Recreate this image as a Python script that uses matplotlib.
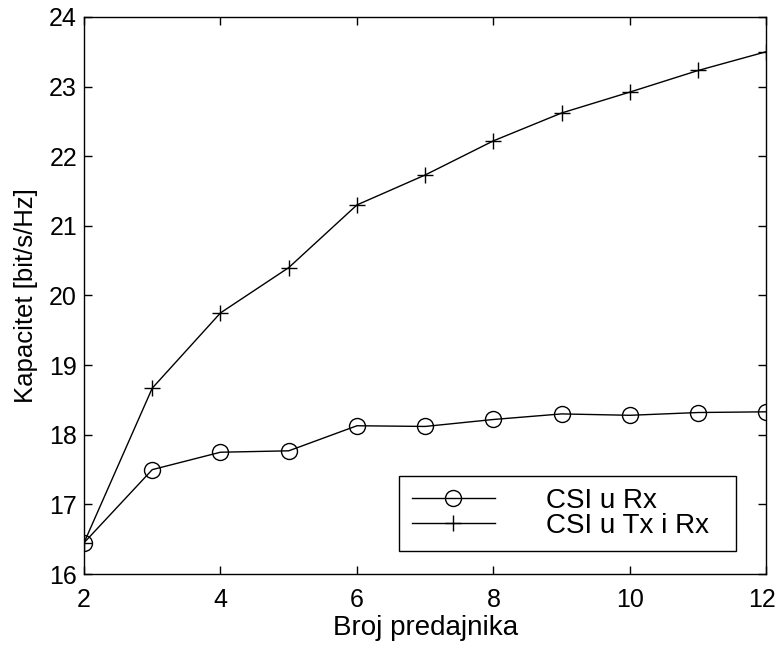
import matplotlib
matplotlib.use("Agg")
import matplotlib.pyplot as plt
import matplotlib.transforms as mtransforms

x_vals = [2, 3, 4, 5, 6, 7, 8, 9, 10, 11, 12]
csi_rx = [16.45, 17.50, 17.75, 17.77, 18.13, 18.12, 18.22, 18.30, 18.28, 18.32, 18.33]
csi_txrx = [16.45, 18.67, 19.75, 20.40, 21.30, 21.73, 22.22, 22.62, 22.92, 23.23, 23.50]
x_ticks = [2, 4, 6, 8, 10, 12]
y_ticks = [16, 17, 18, 19, 20, 21, 22, 23, 24]

plt.rcParams['font.family'] = ['Liberation Sans', 'DejaVu Sans']
fig = plt.figure(figsize=(7.78, 6.48), dpi=100)
ax = fig.add_axes([0.108, 0.114, 0.877, 0.860])

ax.plot(x_vals, csi_rx, color='black', lw=1, marker='o', ms=11.5,
        mfc='none', mec='black', mew=1, label='CSI u Rx')
ax.plot(x_vals, csi_txrx, color='black', lw=1, marker='+', ms=12,
        mec='black', mew=1, label='CSI u Tx i Rx')

ax.set_xlim(2, 12)
ax.set_ylim(16, 24)
ax.set_xticks(x_ticks)
ax.set_yticks(y_ticks)
ax.tick_params(direction='in', top=True, right=True, length=6, width=1,
               labelsize=18, colors='black')
ax.tick_params(axis='x', pad=10)
ax.tick_params(axis='y', pad=5)
for s in ax.spines.values():
    s.set_linewidth(1)
    s.set_color('black')

# keep the last x tick label inside the canvas
last = ax.get_xticklabels()[-1]
last.set_transform(last.get_transform() +
                   mtransforms.ScaledTranslation(-4 / 100, 0, fig.dpi_scale_trans))

ax.set_xlabel('Broj predajnika', fontsize=20, labelpad=2)
ax.set_ylabel('Kapacitet [bit/s/Hz]', fontsize=18.5, labelpad=8)

leg = ax.legend(loc='lower left', bbox_to_anchor=(0.462, 0.041, 0.494, 0.137),
                mode='expand', fontsize=20, frameon=True, fancybox=False,
                framealpha=1, edgecolor='black', handlelength=3.0,
                handletextpad=1.85, borderpad=0.45, labelspacing=-0.05,
                borderaxespad=0)
leg.get_frame().set_linewidth(1)

fig.savefig('out.png', dpi=100)
